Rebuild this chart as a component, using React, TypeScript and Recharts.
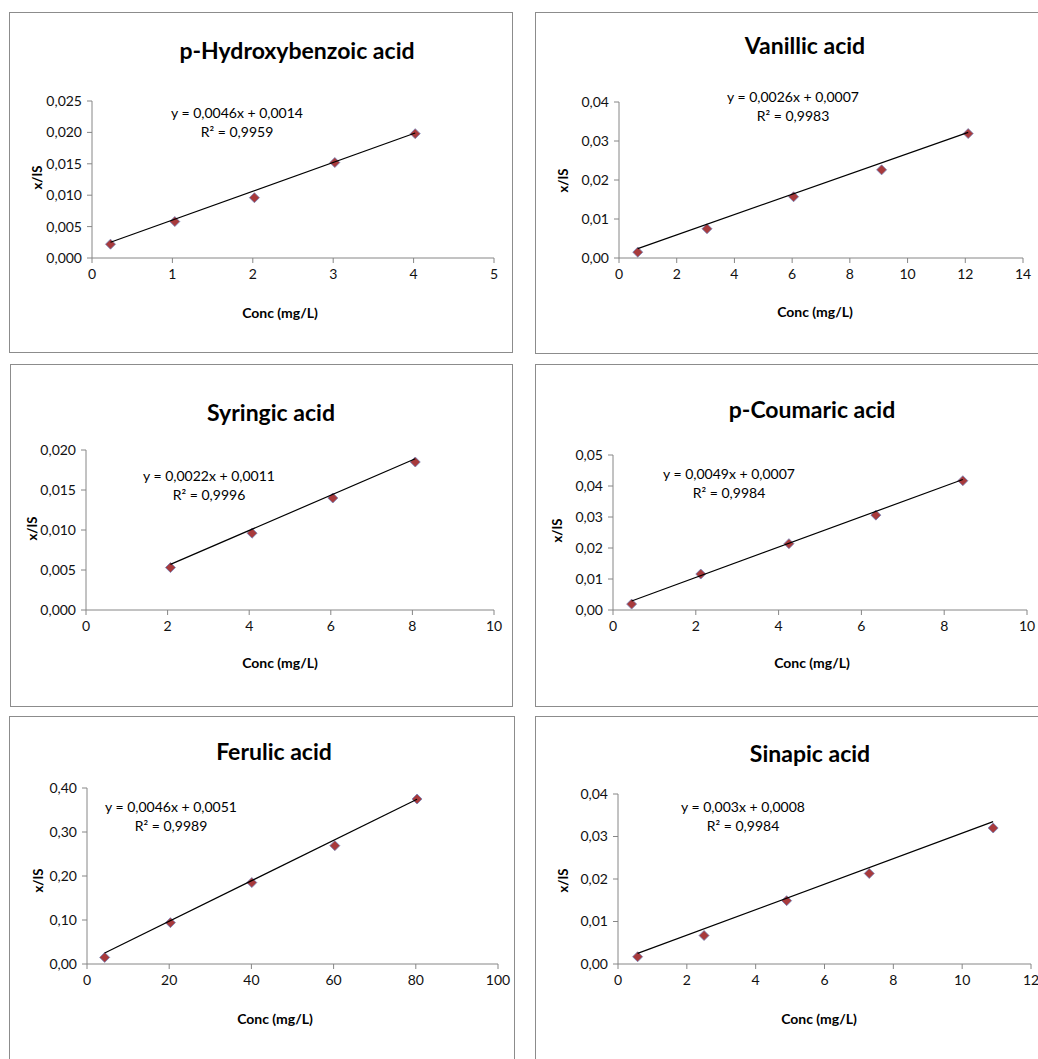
import * as React from "react";
import { ScatterChart, Scatter, XAxis, YAxis } from "recharts";

// measured points (conc in mg/L, ratio x/IS)
const hbaX = [0.23, 1.03, 2.02, 3.02, 4.02];
const hbaY = [0.0022, 0.0058, 0.0096, 0.0152, 0.0198];
const hbaTrend = [[0.23, 0.0025], [4.02, 0.0199]];

const vanX = [0.65, 3.05, 6.05, 9.1, 12.1];
const vanY = [0.0015, 0.0075, 0.0157, 0.0226, 0.0319];
const vanTrend = [[0.65, 0.0024], [12.1, 0.0322]];

const syrX = [2.07, 4.07, 6.05, 8.07];
const syrY = [0.0053, 0.0096, 0.014, 0.0185];
const syrTrend = [[2.07, 0.0057], [8.07, 0.0189]];

const couX = [0.45, 2.12, 4.25, 6.35, 8.45];
const couY = [0.0019, 0.0116, 0.0214, 0.0306, 0.0417];
const couTrend = [[0.45, 0.0029], [8.45, 0.0421]];

const ferX = [4.3, 20.3, 40.1, 60.3, 80.3];
const ferY = [0.015, 0.094, 0.185, 0.269, 0.375];
const ferTrend = [[4.3, 0.0249], [80.3, 0.3745]];

const sinX = [0.57, 2.5, 4.9, 7.3, 10.9];
const sinY = [0.0017, 0.0067, 0.0149, 0.0213, 0.032];
const sinTrend = [[0.57, 0.0025], [10.9, 0.0335]];

const titles = ["p-Hydroxybenzoic acid", "Vanillic acid", "Syringic acid", "p-Coumaric acid", "Ferulic acid", "Sinapic acid"];
const equations = [
  "y = 0,0046x + 0,0014", "y = 0,0026x + 0,0007", "y = 0,0022x + 0,0011",
  "y = 0,0049x + 0,0007", "y = 0,0046x + 0,0051", "y = 0,003x + 0,0008",
];
const rSquared = ["0,9959", "0,9983", "0,9996", "0,9984", "0,9989", "0,9984"];

const xTicks = [
  [0, 1, 2, 3, 4, 5],
  [0, 2, 4, 6, 8, 10, 12, 14],
  [0, 2, 4, 6, 8, 10],
  [0, 2, 4, 6, 8, 10],
  [0, 20, 40, 60, 80, 100],
  [0, 2, 4, 6, 8, 10, 12],
];
const yTicks = [
  [0, 0.005, 0.01, 0.015, 0.02, 0.025],
  [0, 0.01, 0.02, 0.03, 0.04],
  [0, 0.005, 0.01, 0.015, 0.02],
  [0, 0.01, 0.02, 0.03, 0.04, 0.05],
  [0, 0.1, 0.2, 0.3, 0.4],
  [0, 0.01, 0.02, 0.03, 0.04],
];
const yDecimals = [3, 2, 3, 2, 2, 2];

const seriesX = [hbaX, vanX, syrX, couX, ferX, sinX];
const seriesY = [hbaY, vanY, syrY, couY, ferY, sinY];
const trends = [hbaTrend, vanTrend, syrTrend, couTrend, ferTrend, sinTrend];

// page layout: panel box, plot box, text anchors (absolute px)
const layout = [
  { box: [9, 12, 513, 353], plot: [91, 100, 493, 257], title: [297, 50], eq: [237, 113], xl: [280, 313], yl: [37, 177] },
  { box: [535, 12, 1050, 354], plot: [618, 101, 1022, 257], title: [805, 45], eq: [793, 97], xl: [815, 312], yl: [563, 180] },
  { box: [10, 364, 513, 707], plot: [85, 449, 493, 609], title: [271, 412], eq: [209, 476], xl: [280, 663], yl: [32, 528] },
  { box: [535, 364, 1050, 707], plot: [612, 454, 1026, 609], title: [812, 409], eq: [729, 474], xl: [812, 663], yl: [557, 530] },
  { box: [9, 716, 515, 1075], plot: [86, 787, 497, 963], title: [274, 751], eq: [171, 807], xl: [275, 1019], yl: [38, 880] },
  { box: [535, 716, 1050, 1075], plot: [617, 793, 1030, 963], title: [810, 753], eq: [743, 807], xl: [819, 1019], yl: [563, 880] },
];

const FONT = "Lato, 'Open Sans', sans-serif";
const AXIS = "#868686";

const Diamond = (props: any) => {
  const { cx, cy } = props;
  if (cx == null || cy == null) return <g />;
  const r = 5;
  return (
    <path
      d={`M${cx},${cy - r}L${cx + r},${cy}L${cx},${cy + r}L${cx - r},${cy}Z`}
      fill="#A83A3C"
      stroke="#7482B8"
      strokeWidth={0.8}
    />
  );
};

const NoDot = () => <g />;

function CenterText({ x, y, text, size, bold, rotate }: any) {
  return (
    <div
      style={{
        position: "absolute",
        left: x - 150,
        top: y - size / 2,
        width: 300,
        height: size,
        lineHeight: `${size}px`,
        textAlign: "center",
        fontFamily: FONT,
        fontSize: size,
        fontWeight: bold ? 700 : 400,
        color: "#000",
        whiteSpace: "nowrap",
        transform: rotate ? "rotate(-90deg)" : undefined,
      }}
    >
      {text}
    </div>
  );
}

function Panel({ i }: { i: number }) {
  const L = layout[i];
  const [bx0, by0, bx1, by1] = L.box;
  const [px0, py0, px1, py1] = L.plot;
  const w = bx1 - bx0;
  const h = by1 - by0;
  const xh = 30;
  const pts = seriesX[i].map((x, k) => ({ x, y: seriesY[i][k] }));
  const trend = trends[i].map(([x, y]) => ({ x, y }));
  const xt = xTicks[i];
  const yt = yTicks[i];
  const fmtY = (v: number) => v.toFixed(yDecimals[i]).replace(".", ",");
  return (
    <>
      <div
        style={{
          position: "absolute",
          left: bx0,
          top: by0,
          width: w,
          height: h,
          border: "1px solid #8c8c8c",
          boxSizing: "border-box",
          background: "#fff",
        }}
      >
        <ScatterChart
          width={w}
          height={h}
          margin={{ top: py0 - by0, right: bx1 - px1, left: 0, bottom: by1 - py1 - xh }}
        >
          <XAxis
            type="number"
            dataKey="x"
            domain={[xt[0], xt[xt.length - 1]]}
            ticks={xt}
            height={xh}
            stroke={AXIS}
            tickSize={5}
            tickMargin={6}
            tick={{ fill: "#111", fontSize: 14, fontFamily: FONT }}
            interval={0}
          />
          <YAxis
            type="number"
            dataKey="y"
            domain={[yt[0], yt[yt.length - 1]]}
            ticks={yt}
            width={px0 - bx0}
            stroke={AXIS}
            tickSize={5}
            tickMargin={5}
            tickFormatter={fmtY}
            tick={{ fill: "#111", fontSize: 14, fontFamily: FONT }}
            interval={0}
          />
          <Scatter data={pts} shape={Diamond} isAnimationActive={false} />
          <Scatter
            data={trend}
            shape={NoDot}
            line={{ stroke: "#000", strokeWidth: 1.2 }}
            isAnimationActive={false}
          />
        </ScatterChart>
      </div>
      <CenterText x={L.title[0]} y={L.title[1]} text={titles[i]} size={23} bold />
      <CenterText x={L.eq[0]} y={L.eq[1]} text={equations[i]} size={14} />
      <CenterText x={L.eq[0]} y={L.eq[1] + 19} text={`R² = ${rSquared[i]}`} size={14} />
      <CenterText x={L.xl[0]} y={L.xl[1]} text="Conc (mg/L)" size={14} bold />
      <CenterText x={L.yl[0]} y={L.yl[1]} text="x/IS" size={13} bold rotate />
    </>
  );
}

export default function App() {
  return (
    <div
      style={{
        position: "absolute",
        left: 0,
        top: 0,
        width: 1038,
        height: 1059,
        overflow: "hidden",
        background: "#fff",
      }}
    >
      {layout.map((_, i) => (
        <Panel key={i} i={i} />
      ))}
    </div>
  );
}
